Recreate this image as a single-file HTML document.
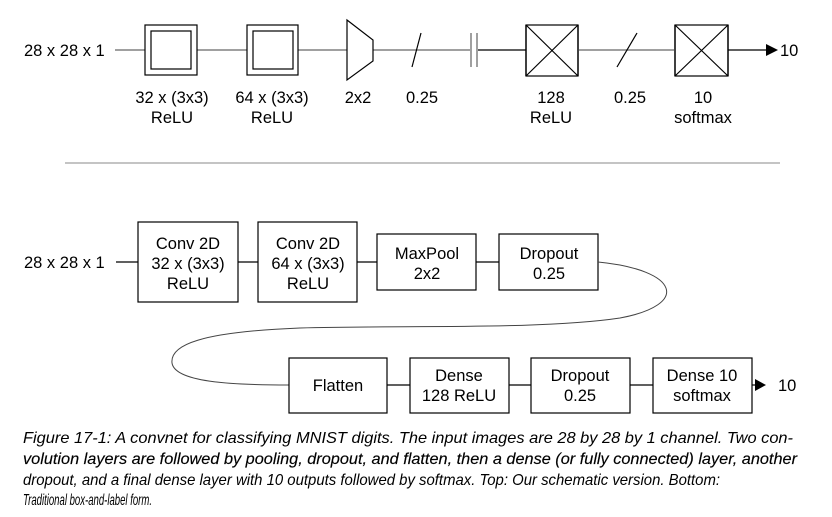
<!DOCTYPE html>
<html><head><meta charset="utf-8"><style>
html,body{margin:0;padding:0;background:#fff;}
svg{display:block;}
text{font-family:"Liberation Sans",sans-serif;fill:#000;}
</style></head><body>
<svg width="832" height="517" viewBox="0 0 832 517" xmlns="http://www.w3.org/2000/svg">
<g font-size="16.5">
<!-- TOP -->
<text x="24" y="56">28 x 28 x 1</text>
<g stroke="#a0a0a0" stroke-width="2" fill="none">
<line x1="115" y1="50" x2="145" y2="50"/>
<line x1="197" y1="50" x2="247" y2="50"/>
<line x1="298" y1="50" x2="347" y2="50"/>
<line x1="373" y1="50" x2="472" y2="50"/>
<line x1="578" y1="50" x2="675" y2="50"/>
<line x1="471" y1="33" x2="471" y2="67"/>
<line x1="477" y1="33" x2="477" y2="67"/>
<line x1="526" y1="25" x2="526" y2="76"/><line x1="578" y1="25" x2="578" y2="76"/>
<line x1="675" y1="25" x2="675" y2="76"/><line x1="728" y1="25" x2="728" y2="76"/>
</g>
<g stroke="#000" stroke-width="1.2" fill="none">
<rect x="145" y="25" width="52" height="50"/><rect x="151" y="31" width="40" height="38"/>
<rect x="247" y="25" width="51" height="50"/><rect x="253" y="31" width="40" height="38"/>
<polygon points="347,20 373,40 373,61 347,80"/>
<line x1="412" y1="67" x2="421" y2="33"/>
<line x1="617" y1="67" x2="637" y2="33"/>
<line x1="478" y1="50" x2="526" y2="50"/>
<rect x="526" y="25" width="52" height="51"/>
<line x1="526" y1="25" x2="578" y2="76"/><line x1="578" y1="25" x2="526" y2="76"/>
<rect x="675" y="25" width="53" height="51"/>
<line x1="675" y1="25" x2="728" y2="76"/><line x1="728" y1="25" x2="675" y2="76"/>
<line x1="728" y1="50" x2="767" y2="50"/>
</g>
<polygon points="766,44 778,50 766,56" fill="#000"/>
<text x="780" y="56">10</text>
<g text-anchor="middle">
<text x="172" y="103">32 x (3x3)</text><text x="172" y="123">ReLU</text>
<text x="272" y="103">64 x (3x3)</text><text x="272" y="123">ReLU</text>
<text x="358" y="103">2x2</text>
<text x="422" y="103">0.25</text>
<text x="551" y="103">128</text><text x="551" y="123">ReLU</text>
<text x="630" y="103">0.25</text>
<text x="703" y="103">10</text><text x="703" y="123">softmax</text>
</g>
<line x1="65" y1="163" x2="780" y2="163" stroke="#888" stroke-width="1"/>

<!-- BOTTOM -->
<text x="24" y="268">28 x 28 x 1</text>
<g stroke="#000" stroke-width="1.2" fill="none">
<line x1="116" y1="262" x2="138" y2="262"/>
<line x1="238" y1="262" x2="258" y2="262"/>
<line x1="357" y1="262" x2="377" y2="262"/>
<line x1="476" y1="262" x2="499" y2="262"/>
<rect x="138" y="222" width="100" height="80"/>
<rect x="258" y="222" width="99" height="80"/>
<rect x="377" y="234" width="99" height="56"/>
<rect x="499" y="234" width="99" height="56"/>
<path d="M598,262 C680,270 690,305 620,318 C540,330 400,325 300,328 C200,332 170,345 172,363 C175,382 230,385 289,385" stroke="#444" stroke-width="1"/>
<rect x="289" y="358" width="98" height="55"/>
<rect x="410" y="358" width="99" height="55"/>
<rect x="531" y="358" width="99" height="55"/>
<rect x="653" y="358" width="99" height="55"/>
<line x1="387" y1="385" x2="410" y2="385"/>
<line x1="509" y1="385" x2="531" y2="385"/>
<line x1="630" y1="385" x2="653" y2="385"/>
<line x1="752" y1="385" x2="756" y2="385"/>
</g>
<polygon points="755,379 766,385 755,391" fill="#000"/>
<text x="778" y="391">10</text>
<g text-anchor="middle">
<text x="188" y="249">Conv 2D</text><text x="188" y="269">32 x (3x3)</text><text x="188" y="289">ReLU</text>
<text x="308" y="249">Conv 2D</text><text x="308" y="269">64 x (3x3)</text><text x="308" y="289">ReLU</text>
<text x="427" y="259">MaxPool</text><text x="427" y="279">2x2</text>
<text x="549" y="259">Dropout</text><text x="549" y="279">0.25</text>
<text x="338" y="391">Flatten</text>
<text x="459" y="381">Dense</text><text x="459" y="401">128 ReLU</text>
<text x="580" y="381">Dropout</text><text x="580" y="401">0.25</text>
<text x="702" y="381">Dense 10</text><text x="702" y="401">softmax</text>
</g>
</g>
<!-- CAPTION -->
<g font-size="16" font-style="italic">
<text x="23" y="443" textLength="770" lengthAdjust="spacingAndGlyphs">Figure 17-1: A convnet for classifying MNIST digits. The input images are 28 by 28 by 1 channel. Two con-</text>
<text x="23" y="464" textLength="774" lengthAdjust="spacingAndGlyphs" stroke="#000" stroke-width="0.15">volution layers are followed by pooling, dropout, and flatten, then a dense (or fully connected) layer, another</text>
<text x="23" y="485" textLength="697" lengthAdjust="spacingAndGlyphs">dropout, and a final dense layer with 10 outputs followed by softmax. Top: Our schematic version. Bottom:</text>
<text x="23" y="505" textLength="129" lengthAdjust="spacingAndGlyphs">Traditional box-and-label form.</text>
</g>
</svg>
</body></html>
